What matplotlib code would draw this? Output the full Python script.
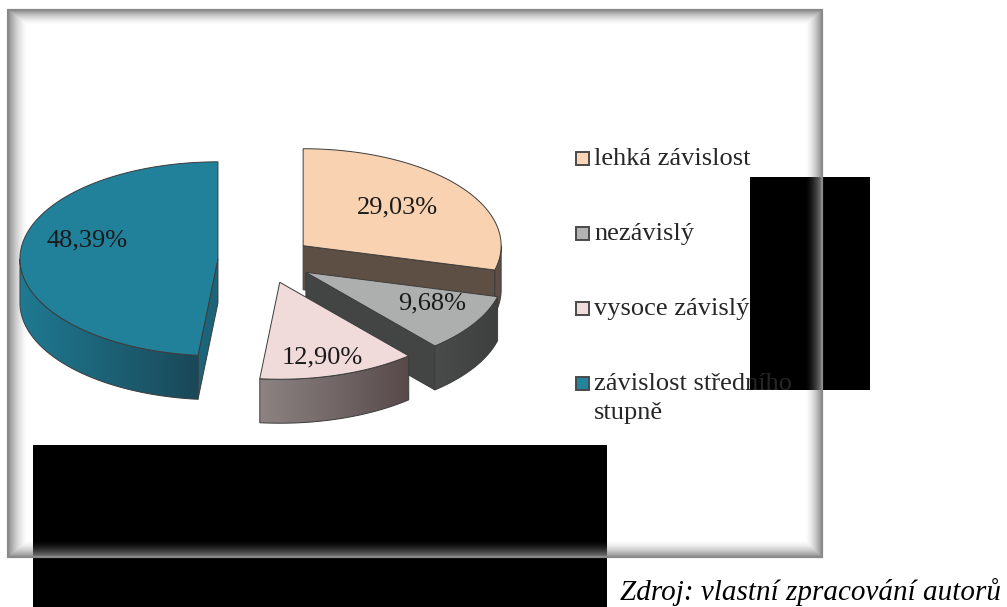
import textwrap
import numpy as np
import matplotlib
matplotlib.use("Agg")
import matplotlib.pyplot as plt
from matplotlib.patches import Polygon, Rectangle
from matplotlib.colors import LinearSegmentedColormap

# ---------------- data ----------------
categories = ["lehká závislost", "nezávislý", "vysoce závislý", "závislost středního stupně"]
values = [29.03, 9.68, 12.90, 48.39]
value_labels = ["29,03%", "9,68%", "12,90%", "48,39%"]
source_text = "Zdroj: vlastní zpracování autorů"

# ---------------- style ----------------
top_colors = ["#F9D3B1", "#ADAFAE", "#F0DADA", "#21809A"]
legend_colors = ["#FBD5B5", "#B3B3B3", "#F2DCDB", "#23849E"]
rim_grad = [("#5E4F45", "#5E4F45"), ("#4A4C4B", "#3E403F"),
            ("#8D8383", "#584A4A"), ("#1F7A92", "#1A4858")]
cut_colors = ["#5E4F45", "#434544", "#6E6262", "#1C6479"]
label_frac = [0.6, 0.75, 0.72, 0.66]
label_dy = [-3, -7, 9, -15]
edge = "#3C3C3C"

serif = ["Liberation Serif", "DejaVu Serif"]

fig = plt.figure(figsize=(10.07, 6.07), dpi=100)
ax = fig.add_axes([0, 0, 1, 1])
ax.set_xlim(0, 1007)
ax.set_ylim(607, 0)
ax.axis("off")

# geometry of the 3D pie (pixel units)
CX, CY = 265.5, 260.0
R, RY = 198.0, 97.0
K = RY / R
DEPTH = 44.0
EXPLODE = 47.6


def rim(cx, cy, a):
    a = np.radians(a)
    return cx + R * np.cos(a), cy - RY * np.sin(a)


def arc(cx, cy, a0, a1, n=120, dy=0.0):
    t = np.radians(np.linspace(a0, a1, n))
    return np.column_stack([cx + R * np.cos(t), cy - RY * np.sin(t) + dy])


def grad_poly(verts, c0, c1, z):
    poly = Polygon(verts, closed=True, facecolor="none", edgecolor=edge,
                   linewidth=0.7, zorder=z + 0.01)
    ax.add_patch(poly)
    x0, x1 = verts[:, 0].min(), verts[:, 0].max()
    y0, y1 = verts[:, 1].min(), verts[:, 1].max()
    cmap = LinearSegmentedColormap.from_list("g", [c0, c1])
    g = np.linspace(0, 1, 256)[None, :]
    im = ax.imshow(g, cmap=cmap, extent=[x0, x1, y1, y0], aspect="auto",
                   zorder=z, interpolation="bilinear")
    im.set_clip_path(poly)


# ---------------- frame, redaction boxes, inner shadow ----------------
FX0, FX1, FY0, FY1 = 8, 822, 10, 557
ax.add_patch(Rectangle((FX0, FY0), FX1 - FX0, FY1 - FY0, facecolor="white",
                       edgecolor="none", zorder=0))
ax.add_patch(Rectangle((33, 445), 574, 165, facecolor="black", edgecolor="none", zorder=1))
ax.add_patch(Rectangle((750, 177), 120, 213, facecolor="black", edgecolor="none", zorder=1))

W, H = FX1 - FX0, FY1 - FY0
xx = np.arange(W)[None, :] + 0.5
yy = np.arange(H)[:, None] + 0.5
def prof(d, w):
    return np.clip(1 - d / w, 0, 1) ** 1.6
alpha = np.maximum.reduce([prof(xx, 20) * np.ones((H, 1)),
                           prof(W - xx, 17) * np.ones((H, 1)),
                           prof(yy, 15) * np.ones((1, W)),
                           prof(H - yy, 17) * np.ones((1, W))])
rgba = np.zeros((H, W, 4))
rgba[..., :3] = 0.52
rgba[..., 3] = alpha * 0.95
ax.imshow(rgba, extent=[FX0, FX1, FY1, FY0], aspect="auto", zorder=2,
          interpolation="bilinear")
ax.add_patch(Rectangle((FX0, FY0), W, H, facecolor="none", edgecolor="#8A8A8A",
                       linewidth=1.6, zorder=3))

# ---------------- 3D exploded pie ----------------
cum = np.concatenate([[0], np.cumsum(values)])
slices = []
for i, v in enumerate(values):
    a_end = 90 - cum[i] * 3.6
    a_start = a_end - v * 3.6
    mid = (a_start + a_end) / 2
    cx = CX + EXPLODE * np.cos(np.radians(mid))
    cy = CY - EXPLODE * K * np.sin(np.radians(mid))
    slices.append((i, a_start, a_end, mid, cx, cy))

draw_order = [0, 3, 1, 2]
for rank, i in enumerate(draw_order):
    _, a0, a1, mid, cx, cy = slices[i]
    z = 4 + rank * 1.0
    # cut faces
    for a, normal in ((a0, a0 - 90), (a1, a1 + 90)):
        if np.sin(np.radians(normal)) < -0.02:
            px, py = rim(cx, cy, a)
            verts = np.array([[cx, cy], [px, py], [px, py + DEPTH], [cx, cy + DEPTH]])
            ax.add_patch(Polygon(verts, closed=True, facecolor=cut_colors[i],
                                 edgecolor=edge, linewidth=0.7, zorder=z))
    # outer rim (front half)
    lo, hi = max(a0, -180), min(a1, 0)
    if hi > lo:
        top = arc(cx, cy, lo, hi)
        bot = arc(cx, cy, hi, lo, dy=DEPTH)
        verts = np.vstack([top, bot])
        grad_poly(verts, rim_grad[i][0], rim_grad[i][1], z + 0.1)
    # top face
    verts = np.vstack([[[cx, cy]], arc(cx, cy, a0, a1)])
    ax.add_patch(Polygon(verts, closed=True, facecolor=top_colors[i],
                         edgecolor=edge, linewidth=0.7, zorder=z + 0.5))
    # value label
    lx = cx + label_frac[i] * R * np.cos(np.radians(mid))
    ly = cy - label_frac[i] * RY * np.sin(np.radians(mid)) + label_dy[i]
    ax.text(lx, ly, value_labels[i], ha="center", va="center", fontsize=19,
            family=serif, color="#1A1A1A", zorder=z + 0.6)

# ---------------- legend ----------------
leg_y = [158, 233, 308, 383]
clip = Rectangle((560, 100), 195, 340, transform=ax.transData, visible=False)
ax.add_patch(clip)
for i, c in enumerate(categories):
    ax.add_patch(Rectangle((576, leg_y[i] - 6.5), 13, 13, facecolor=legend_colors[i],
                           edgecolor="#4A4A4A", linewidth=1.4, zorder=10))
    t = ax.text(594, leg_y[i] - 10, textwrap.fill(c, 19), ha="left", va="top",
                fontsize=19, family=serif, color="#262626", zorder=10,
                linespacing=1.42)
    t.set_clip_path(clip)

# ---------------- source note ----------------
ax.text(620, 600, source_text, ha="left", va="baseline", fontsize=21,
        family=serif, style="italic", color="black", zorder=10)

fig.savefig("out.png", dpi=100)
